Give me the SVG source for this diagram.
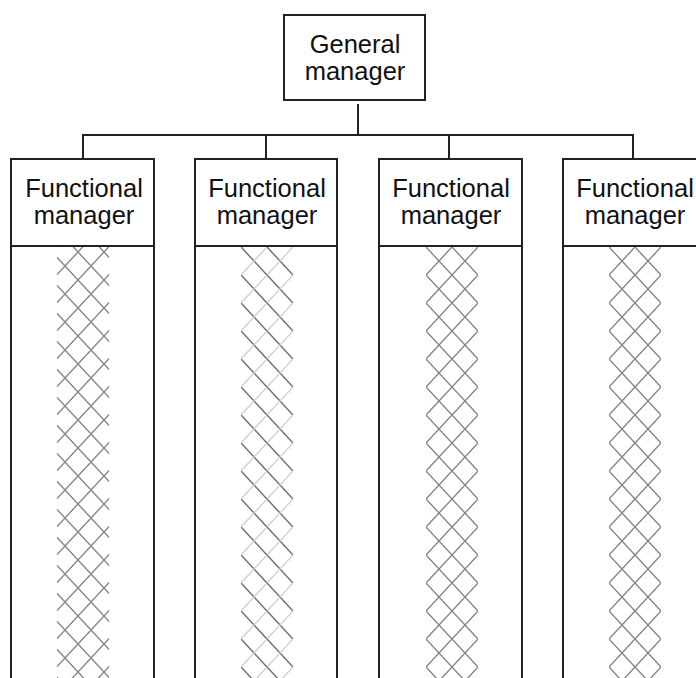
<svg xmlns="http://www.w3.org/2000/svg" width="696" height="678" viewBox="0 0 696 678">
  <style>
    .box { fill: #fff; stroke: #222; stroke-width: 2; }
    .rule { stroke: #222; stroke-width: 2; fill: none; }
    .wire { stroke: #222; stroke-width: 2; fill: none; }
    .lbl { font-family: "Liberation Sans", Arial, Helvetica, sans-serif; fill: #111; text-anchor: middle; }
    .gm { font-size: 25.5px; }
    .fm { font-size: 25.5px; }
  </style>
  <defs>
    <!-- cross-hatch lattice: diamonds 26 wide, 28 tall -->
    <pattern id="xhatch" patternUnits="userSpaceOnUse" width="26" height="28">
      <path d="M0,0 L26,28 M26,0 L0,28" stroke="#858585" stroke-width="1.4" fill="none"/>
    </pattern>
    <!-- variant with dominant back-slash strokes -->
    <pattern id="slash" patternUnits="userSpaceOnUse" width="26" height="28">
      <path d="M0,0 L26,28" stroke="#6e6e6e" stroke-width="1.5" fill="none"/>
      <path d="M26,0 L0,28" stroke="#cccccc" stroke-width="1.2" fill="none"/>
    </pattern>
  </defs>

  <!-- connectors -->
  <g id="connectors">
    <line class="wire" x1="358" y1="104" x2="358" y2="135"/>
    <line class="wire" x1="82" y1="135" x2="634" y2="135"/>
    <line class="wire" x1="83" y1="135" x2="83" y2="159"/>
    <line class="wire" x1="266" y1="135" x2="266" y2="159"/>
    <line class="wire" x1="449" y1="135" x2="449" y2="159"/>
    <line class="wire" x1="633" y1="135" x2="633" y2="159"/>
  </g>

  <!-- top node -->
  <g id="general-manager">
    <rect class="box" x="284" y="15" width="141" height="85"/>
    <text class="lbl gm" x="355" y="52.5">General</text>
    <text class="lbl gm" x="355" y="80">manager</text>
  </g>

  <!-- functional columns -->
  <g id="functional-1">
    <rect class="box" x="11" y="159" width="143" height="540"/>
    <line class="rule" x1="11" y1="246" x2="154" y2="246"/>
    <rect x="57" y="247" width="52" height="440" fill="url(#xhatch)"/>
    <text class="lbl fm" x="84" y="197">Functional</text>
    <text class="lbl fm" x="84" y="224">manager</text>
  </g>

  <g id="functional-2">
    <rect class="box" x="195" y="159" width="142" height="540"/>
    <line class="rule" x1="195" y1="246" x2="337" y2="246"/>
    <g transform="translate(241,247)">
      <rect x="0" y="0" width="52" height="440" fill="url(#slash)"/>
    </g>
    <text class="lbl fm" x="267" y="197">Functional</text>
    <text class="lbl fm" x="267" y="224">manager</text>
  </g>

  <g id="functional-3">
    <rect class="box" x="379" y="159" width="143" height="540"/>
    <line class="rule" x1="379" y1="246" x2="522" y2="246"/>
    <g transform="translate(426,247)">
      <rect x="0" y="0" width="52" height="440" fill="url(#xhatch)"/>
    </g>
    <text class="lbl fm" x="451" y="197">Functional</text>
    <text class="lbl fm" x="451" y="224">manager</text>
  </g>

  <g id="functional-4">
    <rect class="box" x="563" y="159" width="143" height="540"/>
    <line class="rule" x1="563" y1="246" x2="706" y2="246"/>
    <g transform="translate(609,247)">
      <rect x="0" y="0" width="52" height="440" fill="url(#xhatch)"/>
    </g>
    <text class="lbl fm" x="635" y="197">Functional</text>
    <text class="lbl fm" x="635" y="224">manager</text>
  </g>
</svg>
